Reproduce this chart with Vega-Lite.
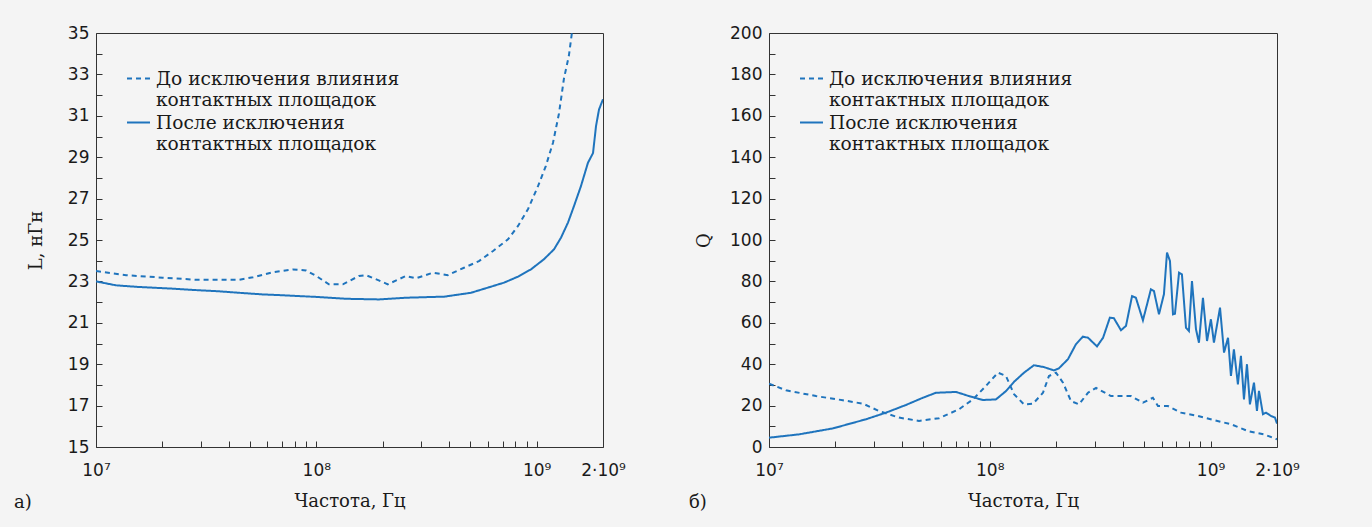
{
  "$schema": "https://vega.github.io/schema/vega-lite/v6.json",
  "background": "#f4f4f4",
  "padding": {"left": 13, "top": 23, "right": 72, "bottom": 17},
  "spacing": 166,
  "bounds": "flush",
  "config": {
    "view": {"stroke": "#333333", "strokeWidth": 1},
    "axis": {
      "domain": false, "offset": -6, "zindex": 1,
      "tickColor": "#333333", "tickSize": 6, "tickWidth": 1,
      "labelFont": "DejaVu Sans", "labelFontSize": 17, "labelColor": "#1a1a1a",
      "titleFont": "DejaVu Serif", "titleFontSize": 18, "titleFontWeight": "normal", "titleColor": "#1a1a1a",
      "grid": false, "labelOverlap": false, "labelFlush": false
    },
    "title": {"font": "DejaVu Serif", "fontSize": 18, "fontWeight": "normal", "color": "#1a1a1a"},
    "style": {"guide-label": {"lineHeight": 21.7}}
  },
  "datasets": {
    "L": [
      {"f": 1e7, "v": 23.5, "s": "До"},
      {"f": 1.37e7, "v": 23.3, "s": "До"},
      {"f": 2.01e7, "v": 23.18, "s": "До"},
      {"f": 2.84e7, "v": 23.08, "s": "До"},
      {"f": 4.46e7, "v": 23.08, "s": "До"},
      {"f": 5.16e7, "v": 23.2, "s": "До"},
      {"f": 6.35e7, "v": 23.44, "s": "До"},
      {"f": 7.83e7, "v": 23.58, "s": "До"},
      {"f": 8.97e7, "v": 23.53, "s": "До"},
      {"f": 1e8, "v": 23.26, "s": "До"},
      {"f": 1.14e8, "v": 22.86, "s": "До"},
      {"f": 1.32e8, "v": 22.86, "s": "До"},
      {"f": 1.56e8, "v": 23.26, "s": "До"},
      {"f": 1.68e8, "v": 23.3, "s": "До"},
      {"f": 1.92e8, "v": 23.05, "s": "До"},
      {"f": 2.11e8, "v": 22.86, "s": "До"},
      {"f": 2.55e8, "v": 23.26, "s": "До"},
      {"f": 2.83e8, "v": 23.15, "s": "До"},
      {"f": 3.38e8, "v": 23.42, "s": "До"},
      {"f": 3.95e8, "v": 23.3, "s": "До"},
      {"f": 4.68e8, "v": 23.66, "s": "До"},
      {"f": 5.47e8, "v": 23.98, "s": "До"},
      {"f": 6.34e8, "v": 24.47, "s": "До"},
      {"f": 7.41e8, "v": 25.03, "s": "До"},
      {"f": 8.23e8, "v": 25.68, "s": "До"},
      {"f": 9.14e8, "v": 26.5, "s": "До"},
      {"f": 1.014e9, "v": 27.6, "s": "До"},
      {"f": 1.1e9, "v": 28.57, "s": "До"},
      {"f": 1.186e9, "v": 29.7, "s": "До"},
      {"f": 1.262e9, "v": 31.1, "s": "До"},
      {"f": 1.33e9, "v": 32.8, "s": "До"},
      {"f": 1.4e9, "v": 33.9, "s": "До"},
      {"f": 1.445e9, "v": 35.0, "s": "До"},
      {"f": 1e7, "v": 23.0, "s": "После"},
      {"f": 1.233e7, "v": 22.81, "s": "После"},
      {"f": 1.567e7, "v": 22.73, "s": "После"},
      {"f": 2.23e7, "v": 22.65, "s": "После"},
      {"f": 2.84e7, "v": 22.58, "s": "После"},
      {"f": 3.51e7, "v": 22.53, "s": "После"},
      {"f": 4.46e7, "v": 22.45, "s": "После"},
      {"f": 5.73e7, "v": 22.37, "s": "После"},
      {"f": 7.06e7, "v": 22.33, "s": "После"},
      {"f": 1e8, "v": 22.25, "s": "После"},
      {"f": 1.37e8, "v": 22.16, "s": "После"},
      {"f": 1.92e8, "v": 22.13, "s": "После"},
      {"f": 2.55e8, "v": 22.21, "s": "После"},
      {"f": 3.38e8, "v": 22.25, "s": "После"},
      {"f": 3.79e8, "v": 22.26, "s": "После"},
      {"f": 5.03e8, "v": 22.45, "s": "После"},
      {"f": 6.01e8, "v": 22.7, "s": "После"},
      {"f": 7.11e8, "v": 22.94, "s": "После"},
      {"f": 8.23e8, "v": 23.23, "s": "После"},
      {"f": 9.42e8, "v": 23.58, "s": "После"},
      {"f": 1.079e9, "v": 24.07, "s": "После"},
      {"f": 1.199e9, "v": 24.55, "s": "После"},
      {"f": 1.289e9, "v": 25.11, "s": "После"},
      {"f": 1.387e9, "v": 25.84, "s": "После"},
      {"f": 1.477e9, "v": 26.64, "s": "После"},
      {"f": 1.588e9, "v": 27.6, "s": "После"},
      {"f": 1.709e9, "v": 28.73, "s": "После"},
      {"f": 1.802e9, "v": 29.2, "s": "После"},
      {"f": 1.859e9, "v": 30.5, "s": "После"},
      {"f": 1.918e9, "v": 31.3, "s": "После"},
      {"f": 2e9, "v": 31.8, "s": "После"}
    ],
    "Q": [
      {"f": 1e7, "v": 30.6, "s": "До"},
      {"f": 1.194e7, "v": 27.4, "s": "До"},
      {"f": 1.633e7, "v": 24.6, "s": "До"},
      {"f": 2.16e7, "v": 22.6, "s": "До"},
      {"f": 2.67e7, "v": 20.9, "s": "До"},
      {"f": 3.15e7, "v": 17.4, "s": "До"},
      {"f": 3.88e7, "v": 14.2, "s": "До"},
      {"f": 4.78e7, "v": 12.6, "s": "До"},
      {"f": 5.89e7, "v": 13.9, "s": "До"},
      {"f": 7.25e7, "v": 18.2, "s": "До"},
      {"f": 8.39e7, "v": 23.0, "s": "До"},
      {"f": 9.61e7, "v": 29.5, "s": "До"},
      {"f": 1.089e8, "v": 35.9, "s": "До"},
      {"f": 1.184e8, "v": 34.3, "s": "До"},
      {"f": 1.288e8, "v": 25.5, "s": "До"},
      {"f": 1.429e8, "v": 20.6, "s": "До"},
      {"f": 1.57e8, "v": 20.9, "s": "До"},
      {"f": 1.742e8, "v": 26.2, "s": "До"},
      {"f": 1.854e8, "v": 34.3, "s": "До"},
      {"f": 1.995e8, "v": 35.9, "s": "До"},
      {"f": 2.146e8, "v": 31.1, "s": "До"},
      {"f": 2.333e8, "v": 22.2, "s": "До"},
      {"f": 2.536e8, "v": 20.6, "s": "До"},
      {"f": 2.785e8, "v": 26.2, "s": "До"},
      {"f": 3.03e8, "v": 28.6, "s": "До"},
      {"f": 3.54e8, "v": 24.6, "s": "До"},
      {"f": 4.36e8, "v": 24.6, "s": "До"},
      {"f": 4.94e8, "v": 21.4, "s": "До"},
      {"f": 5.48e8, "v": 23.8, "s": "До"},
      {"f": 5.78e8, "v": 19.8, "s": "До"},
      {"f": 6.41e8, "v": 19.8, "s": "До"},
      {"f": 7.35e8, "v": 16.6, "s": "До"},
      {"f": 8.77e8, "v": 15.0, "s": "До"},
      {"f": 1.036e9, "v": 13.0, "s": "До"},
      {"f": 1.237e9, "v": 11.0, "s": "До"},
      {"f": 1.476e9, "v": 7.7, "s": "До"},
      {"f": 1.745e9, "v": 6.1, "s": "До"},
      {"f": 2e9, "v": 3.7, "s": "До"},
      {"f": 1e7, "v": 4.5, "s": "После"},
      {"f": 1.367e7, "v": 6.1, "s": "После"},
      {"f": 1.95e7, "v": 9.0, "s": "После"},
      {"f": 2.75e7, "v": 13.4, "s": "После"},
      {"f": 3.39e7, "v": 16.6, "s": "После"},
      {"f": 4.17e7, "v": 20.3, "s": "После"},
      {"f": 4.98e7, "v": 23.8, "s": "После"},
      {"f": 5.7e7, "v": 26.2, "s": "После"},
      {"f": 7.03e7, "v": 26.6, "s": "После"},
      {"f": 8.05e7, "v": 24.6, "s": "После"},
      {"f": 9.31e7, "v": 22.7, "s": "После"},
      {"f": 1.067e8, "v": 23.0, "s": "После"},
      {"f": 1.184e8, "v": 27.0, "s": "После"},
      {"f": 1.288e8, "v": 31.5, "s": "После"},
      {"f": 1.429e8, "v": 35.9, "s": "После"},
      {"f": 1.585e8, "v": 39.5, "s": "После"},
      {"f": 1.759e8, "v": 38.6, "s": "После"},
      {"f": 1.953e8, "v": 37.0, "s": "После"},
      {"f": 2.056e8, "v": 38.0, "s": "После"},
      {"f": 2.26e8, "v": 42.4, "s": "После"},
      {"f": 2.455e8, "v": 49.6, "s": "После"},
      {"f": 2.64e8, "v": 53.3, "s": "После"},
      {"f": 2.785e8, "v": 52.8, "s": "После"},
      {"f": 3.06e8, "v": 48.6, "s": "После"},
      {"f": 3.26e8, "v": 52.8, "s": "После"},
      {"f": 3.5e8, "v": 62.5, "s": "После"},
      {"f": 3.65e8, "v": 62.2, "s": "После"},
      {"f": 3.93e8, "v": 56.4, "s": "После"},
      {"f": 4.14e8, "v": 58.5, "s": "После"},
      {"f": 4.41e8, "v": 72.9, "s": "После"},
      {"f": 4.59e8, "v": 72.1, "s": "После"},
      {"f": 4.94e8, "v": 61.2, "s": "После"},
      {"f": 5.37e8, "v": 76.2, "s": "После"},
      {"f": 5.54e8, "v": 75.4, "s": "После"},
      {"f": 5.84e8, "v": 64.1, "s": "После"},
      {"f": 6.15e8, "v": 73.8, "s": "После"},
      {"f": 6.35e8, "v": 93.9, "s": "После"},
      {"f": 6.55e8, "v": 89.9, "s": "После"},
      {"f": 6.76e8, "v": 64.1, "s": "После"},
      {"f": 6.9e8, "v": 64.4, "s": "После"},
      {"f": 7.2e8, "v": 84.2, "s": "После"},
      {"f": 7.42e8, "v": 83.4, "s": "После"},
      {"f": 7.74e8, "v": 57.6, "s": "После"},
      {"f": 7.98e8, "v": 56.0, "s": "После"},
      {"f": 8.24e8, "v": 80.2, "s": "После"},
      {"f": 8.59e8, "v": 56.9, "s": "После"},
      {"f": 8.86e8, "v": 50.4, "s": "После"},
      {"f": 9.24e8, "v": 72.1, "s": "После"},
      {"f": 9.64e8, "v": 51.2, "s": "После"},
      {"f": 1.004e9, "v": 61.7, "s": "После"},
      {"f": 1.036e9, "v": 50.4, "s": "После"},
      {"f": 1.104e9, "v": 67.3, "s": "После"},
      {"f": 1.151e9, "v": 45.6, "s": "После"},
      {"f": 1.2e9, "v": 52.8, "s": "После"},
      {"f": 1.237e9, "v": 34.3, "s": "После"},
      {"f": 1.276e9, "v": 47.2, "s": "После"},
      {"f": 1.33e9, "v": 30.3, "s": "После"},
      {"f": 1.373e9, "v": 44.0, "s": "После"},
      {"f": 1.417e9, "v": 23.0, "s": "После"},
      {"f": 1.462e9, "v": 40.0, "s": "После"},
      {"f": 1.508e9, "v": 20.6, "s": "После"},
      {"f": 1.573e9, "v": 31.1, "s": "После"},
      {"f": 1.623e9, "v": 17.4, "s": "После"},
      {"f": 1.657e9, "v": 27.1, "s": "После"},
      {"f": 1.728e9, "v": 15.8, "s": "После"},
      {"f": 1.783e9, "v": 16.6, "s": "После"},
      {"f": 1.879e9, "v": 15.0, "s": "После"},
      {"f": 1.958e9, "v": 14.2, "s": "После"},
      {"f": 2e9, "v": 11.3, "s": "После"}
    ]
  },
  "hconcat": [
    {
      "width": 507,
      "height": 414,
      "data": {"name": "L"},
      "title": {"text": "а)", "orient": "bottom", "anchor": "start", "frame": "group", "dx": -82, "dy": -20},
      "mark": {"type": "line", "color": "#1f74bd", "strokeWidth": 2, "clip": true},
      "encoding": {
        "x": {
          "field": "f", "type": "quantitative",
          "scale": {"type": "log", "domain": [1e7, 2e9], "nice": false},
          "axis": {
            "title": "Частота, Гц", "titlePadding": 14, "labelPadding": 15,
            "values": [1e7, 2e7, 3e7, 4e7, 5e7, 6e7, 7e7, 8e7, 9e7, 1e8, 2e8, 3e8, 4e8, 5e8, 6e8, 7e8, 8e8, 9e8, 1e9, 2e9],
            "labelExpr": "datum.value == 1e7 ? '10⁷' : datum.value == 1e8 ? '10⁸' : datum.value == 1e9 ? '10⁹' : datum.value == 2e9 ? '2·10⁹' : ''"
          }
        },
        "y": {
          "field": "v", "type": "quantitative",
          "scale": {"domain": [15, 35], "nice": false, "zero": false},
          "axis": {
            "title": "L, нГн", "titlePadding": 22, "labelPadding": 7,
            "values": [15, 16, 17, 18, 19, 20, 21, 22, 23, 24, 25, 26, 27, 28, 29, 30, 31, 32, 33, 34, 35],
            "labelExpr": "datum.value % 2 == 1 ? datum.label : ''"
          }
        },
        "strokeDash": {
          "field": "s", "type": "nominal",
          "scale": {"domain": ["До", "После"], "range": [[5, 4], [1, 0]]},
          "legend": {
            "orient": "none", "legendX": 30, "legendY": 33, "title": null,
            "symbolType": "stroke", "symbolSize": 529, "symbolStrokeWidth": 2, "symbolStrokeColor": "#1f74bd",
            "labelFont": "DejaVu Serif", "labelFontSize": 18.6, "labelColor": "#1a1a1a", "labelLimit": 600,
            "labelOffset": 5, "rowPadding": 0, "labelBaseline": "middle",
            "labelExpr": "datum.label == 'До' ? ['До исключения влияния', 'контактных площадок'] : ['После исключения', 'контактных площадок']"
          }
        }
      }
    },
    {
      "width": 508,
      "height": 414,
      "data": {"name": "Q"},
      "title": {"text": "б)", "orient": "bottom", "anchor": "start", "frame": "group", "dx": -80, "dy": -20},
      "mark": {"type": "line", "color": "#1f74bd", "strokeWidth": 2, "clip": true},
      "encoding": {
        "x": {
          "field": "f", "type": "quantitative",
          "scale": {"type": "log", "domain": [1e7, 2e9], "nice": false},
          "axis": {
            "title": "Частота, Гц", "titlePadding": 14, "labelPadding": 15,
            "values": [1e7, 2e7, 3e7, 4e7, 5e7, 6e7, 7e7, 8e7, 9e7, 1e8, 2e8, 3e8, 4e8, 5e8, 6e8, 7e8, 8e8, 9e8, 1e9, 2e9],
            "labelExpr": "datum.value == 1e7 ? '10⁷' : datum.value == 1e8 ? '10⁸' : datum.value == 1e9 ? '10⁹' : datum.value == 2e9 ? '2·10⁹' : ''"
          }
        },
        "y": {
          "field": "v", "type": "quantitative",
          "scale": {"domain": [0, 200], "nice": false},
          "axis": {
            "title": "Q", "titlePadding": 16, "labelPadding": 7,
            "values": [0, 10, 20, 30, 40, 50, 60, 70, 80, 90, 100, 110, 120, 130, 140, 150, 160, 170, 180, 190, 200],
            "labelExpr": "datum.value % 20 == 0 ? datum.label : ''"
          }
        },
        "strokeDash": {
          "field": "s", "type": "nominal",
          "scale": {"domain": ["До", "После"], "range": [[5, 4], [1, 0]]},
          "legend": {
            "orient": "none", "legendX": 30, "legendY": 33, "title": null,
            "symbolType": "stroke", "symbolSize": 529, "symbolStrokeWidth": 2, "symbolStrokeColor": "#1f74bd",
            "labelFont": "DejaVu Serif", "labelFontSize": 18.6, "labelColor": "#1a1a1a", "labelLimit": 600,
            "labelOffset": 5, "rowPadding": 0, "labelBaseline": "middle",
            "labelExpr": "datum.label == 'До' ? ['До исключения влияния', 'контактных площадок'] : ['После исключения', 'контактных площадок']"
          }
        }
      }
    }
  ],
  "resolve": {"scale": {"strokeDash": "independent"}, "legend": {"strokeDash": "independent"}}
}
